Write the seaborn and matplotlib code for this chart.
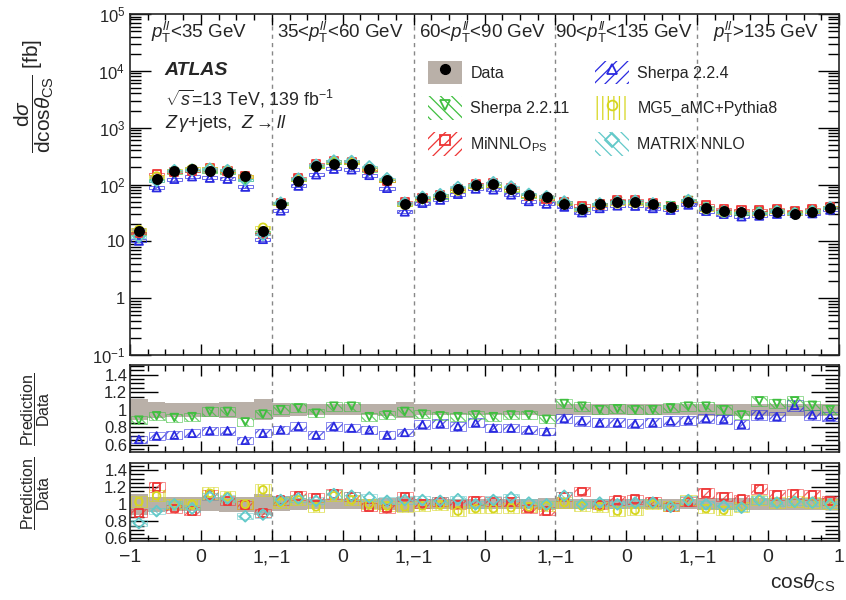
import numpy as np
import pandas as pd
import matplotlib
matplotlib.use("Agg")
import matplotlib.pyplot as plt
import seaborn as sns
from matplotlib.patches import Patch
from matplotlib.lines import Line2D
from matplotlib.ticker import FixedLocator, MultipleLocator, LogLocator, NullFormatter, FixedFormatter

# ---------------- data ----------------
cos_centers = [-0.875, -0.625, -0.375, -0.125, 0.125, 0.375, 0.625, 0.875]
pt_labels = [r"$p_{\mathrm{T}}^{ll}$<35 GeV", r"35<$p_{\mathrm{T}}^{ll}$<60 GeV",
             r"60<$p_{\mathrm{T}}^{ll}$<90 GeV", r"90<$p_{\mathrm{T}}^{ll}$<135 GeV",
             r"$p_{\mathrm{T}}^{ll}$>135 GeV"]

data_pt1 = [15.5, 127, 176, 190, 172, 165, 140, 15]
data_pt2 = [45, 117, 211, 232, 232, 190, 122, 45]
data_pt3 = [57, 64, 84, 99, 103, 84, 66, 61]
data_pt4 = [45, 37, 45, 50, 50, 45, 41, 50]
data_pt5 = [38, 34, 33, 30, 33, 30, 33, 39]

data_relunc = [0.12, 0.09, 0.08, 0.08, 0.08, 0.09, 0.09, 0.12,
               0.08, 0.07, 0.06, 0.06, 0.06, 0.06, 0.07, 0.09,
               0.06, 0.06, 0.06, 0.06, 0.06, 0.06, 0.06, 0.07,
               0.06, 0.06, 0.06, 0.06, 0.06, 0.06, 0.06, 0.06,
               0.07, 0.07, 0.07, 0.07, 0.07, 0.07, 0.07, 0.07]

ratio_sherpa224 = [0.66, 0.70, 0.71, 0.73, 0.76, 0.76, 0.65, 0.73,
                   0.77, 0.81, 0.71, 0.81, 0.79, 0.77, 0.71, 0.74,
                   0.83, 0.84, 0.81, 0.85, 0.79, 0.79, 0.77, 0.75,
                   0.90, 0.87, 0.85, 0.85, 0.84, 0.85, 0.87, 0.88,
                   0.90, 0.89, 0.83, 0.94, 0.92, 1.05, 0.94, 0.92]
ratio_sherpa2211 = [0.88, 0.93, 0.91, 0.92, 0.98, 0.98, 0.86, 0.95,
                    1.00, 1.02, 0.96, 1.04, 1.04, 0.92, 0.94, 0.98,
                    0.95, 0.93, 0.92, 0.94, 0.92, 0.94, 0.94, 0.89,
                    1.07, 1.04, 1.00, 1.01, 1.00, 1.00, 1.02, 1.04,
                    1.04, 1.00, 0.94, 1.10, 1.07, 1.10, 1.05, 1.00]
ratio_minnlo = [0.90, 1.20, 0.95, 0.92, 1.11, 1.04, 0.99, 0.90,
                1.05, 1.10, 1.08, 1.12, 1.09, 0.97, 0.95, 1.09,
                1.01, 1.03, 1.00, 1.04, 1.03, 1.03, 0.95, 0.92,
                1.09, 1.15, 0.99, 1.05, 1.06, 1.03, 0.97, 1.03,
                1.13, 1.09, 1.06, 1.18, 1.11, 1.12, 1.11, 1.04]
ratio_mg5 = [1.03, 1.10, 1.00, 1.00, 1.13, 1.09, 1.00, 1.17,
             1.02, 1.05, 0.97, 1.10, 1.05, 1.00, 0.98, 0.97,
             0.98, 0.99, 0.92, 0.95, 0.95, 0.96, 0.97, 0.98,
             1.02, 0.98, 0.97, 0.92, 0.93, 1.00, 0.98, 1.05,
             0.95, 0.93, 0.97, 1.05, 1.02, 1.03, 1.02, 1.00]
ratio_matrix = [0.78, 0.92, 1.00, 0.95, 1.09, 1.07, 0.86, 0.88,
                1.05, 1.07, 1.04, 1.12, 1.10, 1.08, 1.04, 1.05,
                1.05, 1.04, 1.06, 1.00, 1.05, 1.08, 1.02, 1.00,
                1.10, 1.00, 1.02, 1.00, 1.02, 1.02, 0.97, 1.05,
                1.00, 0.98, 0.96, 1.05, 1.02, 1.03, 1.02, 1.00]
model_relunc = {"Sherpa 2.2.4": 0.06, "Sherpa 2.2.11": 0.05,
                "MiNNLO$_{\\mathrm{PS}}$": 0.05, "MG5_aMC+Pythia8": 0.06,
                "MATRIX NNLO": 0.04}

x_ticklabels = ["\u22121", "0", "1,\u22121", "0", "1,\u22121", "0", "1,\u22121", "0",
                "1,\u22121", "0", "1"]

# ---------------- style ----------------
sns.set_style("ticks")
plt.rcParams["font.family"] = ["Liberation Sans", "DejaVu Sans"]
plt.rcParams["mathtext.fontset"] = "custom"
plt.rcParams["mathtext.rm"] = "Liberation Sans"
plt.rcParams["mathtext.it"] = "Liberation Sans:italic"
plt.rcParams["mathtext.bf"] = "Liberation Sans:bold"
plt.rcParams["hatch.linewidth"] = 0.9

GREY = "#b9b0a8"
models = [
    ("Sherpa 2.2.4", ratio_sherpa224, "#2a2ae0", "^", "///"),
    ("Sherpa 2.2.11", ratio_sherpa2211, "#3fbf3f", "v", "\\\\\\"),
    ("MiNNLO$_{\\mathrm{PS}}$", ratio_minnlo, "#ee3535", "s", "///"),
    ("MG5_aMC+Pythia8", ratio_mg5, "#d6d61e", "o", "|||"),
    ("MATRIX NNLO", ratio_matrix, "#62c9c9", "D", "\\\\\\"),
]

data_vals = np.array(data_pt1 + data_pt2 + data_pt3 + data_pt4 + data_pt5, dtype=float)
xg = np.array([2 * k + 1 + c for k in range(5) for c in cos_centers])
relunc = np.array(data_relunc)
BW = 0.25

fig = plt.figure(figsize=(8.46, 6.0), dpi=100)
ax0 = fig.add_axes([0.1537, 0.4083, 0.838, 0.5684])
ax1 = fig.add_axes([0.1537, 0.2472, 0.838, 0.1445], sharex=ax0)
ax2 = fig.add_axes([0.1537, 0.0983, 0.838, 0.1295], sharex=ax0)


def open_scatter(ax, x, y, marker, color, size=45, lw=1.3, z=3):
    sns.scatterplot(x=x, y=y, marker=marker, s=size, color=color, ax=ax,
                    linewidth=lw, zorder=z, legend=False)
    coll = ax.collections[-1]
    coll.set_facecolor("none")
    coll.set_edgecolor(color)


# main panel
ax0.set_yscale("log")
ax0.bar(xg, 2 * relunc * data_vals, bottom=data_vals * (1 - relunc), width=BW * 0.8,
        color=GREY, linewidth=0, zorder=2)
for name, r, col, mk, ht in models:
    r = np.array(r)
    pred = data_vals * r
    u = model_relunc[name]
    ax0.bar(xg, 2 * u * pred, bottom=pred * (1 - u), width=BW * 0.85, fill=False,
            hatch=ht, edgecolor=col, linewidth=0.6, zorder=2, alpha=0.8)
    open_scatter(ax0, xg, pred, mk, col, size=34)
df_data = pd.DataFrame({"x": xg, "y": data_vals})
sns.scatterplot(data=df_data, x="x", y="y", color="black", s=62, marker="o",
                ax=ax0, zorder=5, linewidth=0, legend=False)

# ratio panels
for ax in (ax1, ax2):
    ax.bar(xg, 2 * relunc, bottom=1 - relunc, width=BW, color=GREY, linewidth=0, zorder=1)

for ax, sel in ((ax1, models[:2]), (ax2, models[2:])):
    for name, r, col, mk, ht in sel:
        r = np.array(r)
        u = model_relunc[name]
        ax.bar(xg, 2 * u * r, bottom=r - u * r, width=BW * 0.9, fill=False,
               hatch=ht, edgecolor=col, linewidth=0.5, zorder=2, alpha=0.75)
        open_scatter(ax, xg, r, mk, col, size=30)

# limits, ticks
ax0.set_xlim(0, 10)
ax0.set_ylim(0.1, 1e5)
ax1.set_ylim(0.52, 1.51)
ax2.set_ylim(0.57, 1.48)

for ax in (ax0, ax1, ax2):
    for b in (2, 4, 6, 8):
        ax.axvline(b, color="#888888", ls=(0, (3, 3)), lw=1.0, zorder=0.5)
    ax.set_xlabel("")
    ax.set_ylabel("")
    ax.xaxis.set_major_locator(FixedLocator(list(range(11))))
    ax.xaxis.set_minor_locator(MultipleLocator(0.25))
    ax.tick_params(which="both", direction="in", top=True, right=True, width=1.0,
                   color="black")
    ax.tick_params(axis="x", which="major", length=8)
    ax.tick_params(axis="x", which="minor", length=4)
    for s in ax.spines.values():
        s.set_linewidth(1.2)

ax0.yaxis.set_major_locator(FixedLocator([0.1, 1, 10, 100, 1e3, 1e4, 1e5]))
ax0.yaxis.set_major_formatter(FixedFormatter([r"$10^{-1}$", "1", "10", r"$10^{2}$",
                                              r"$10^{3}$", r"$10^{4}$", r"$10^{5}$"]))
ax0.yaxis.set_minor_locator(LogLocator(base=10, subs=np.arange(2, 10), numticks=20))
ax0.yaxis.set_minor_formatter(NullFormatter())
ax0.tick_params(axis="y", which="major", length=15, labelsize=12)
ax0.tick_params(axis="y", which="minor", length=8)
ax0.tick_params(axis="x", labelbottom=False)
ax1.tick_params(axis="x", labelbottom=False)

for ax in (ax1, ax2):
    ax.yaxis.set_major_locator(FixedLocator([0.6, 0.8, 1.0, 1.2, 1.4]))
    ax.yaxis.set_major_formatter(FixedFormatter(["0.6", "0.8", "1", "1.2", "1.4"]))
    ax.yaxis.set_minor_locator(MultipleLocator(0.05))
    ax.tick_params(axis="y", which="major", length=20, labelsize=12, pad=2)
    ax.tick_params(axis="y", which="minor", length=10)

ax2.xaxis.set_major_formatter(FixedFormatter(x_ticklabels))
ax2.tick_params(axis="x", labelsize=14, pad=6)

# texts
for k, lab in enumerate(pt_labels):
    ax0.text(2 * k + 0.97, 0.945, lab, transform=ax0.get_xaxis_transform(),
             ha="center", va="center", fontsize=13.5)
ax0.text(0.49, 0.835, "ATLAS", transform=ax0.get_xaxis_transform(), fontsize=14,
         fontweight="bold", fontstyle="italic", va="center")
ax0.text(0.49, 0.752, r"$\sqrt{s}$=13 TeV, 139 fb$^{-1}$", transform=ax0.get_xaxis_transform(),
         fontsize=12.8, va="center")
ax0.text(0.49, 0.68, r"$Z\,\gamma$+jets,  $Z\rightarrow ll$", transform=ax0.get_xaxis_transform(),
         fontsize=13, va="center")

fig.text(0.04, 0.84,
         r"$\dfrac{\mathrm{d}\sigma}{\mathrm{dcos}\theta_{\mathrm{CS}}}$ [fb]",
         rotation=90, ha="center", va="center", fontsize=15)
fig.text(0.042, 0.318, r"$\dfrac{\mathrm{Prediction}}{\mathrm{Data}}$", rotation=90,
         ha="center", va="center", fontsize=11.5)
fig.text(0.042, 0.178, r"$\dfrac{\mathrm{Prediction}}{\mathrm{Data}}$", rotation=90,
         ha="center", va="center", fontsize=11.5)
fig.text(0.988, 0.028, r"cos$\theta_{\mathrm{CS}}$", ha="right", va="center", fontsize=15)

# legend
def mk_handle(col, mk, ht):
    return (Patch(facecolor="none", edgecolor=col, hatch=ht, linewidth=0),
            Line2D([], [], marker=mk, ls="", mfc="none", mec=col, ms=7, mew=1.3))

h = {name: mk_handle(col, mk, ht) for name, r, col, mk, ht in models}
h_data = (Patch(facecolor=GREY, edgecolor="none"),
          Line2D([], [], marker="o", ls="", color="black", ms=7))
handles = [h_data, h["Sherpa 2.2.11"], h["MiNNLO$_{\\mathrm{PS}}$"],
           h["Sherpa 2.2.4"], h["MG5_aMC+Pythia8"], h["MATRIX NNLO"]]
labels = ["Data", "Sherpa 2.2.11", "MiNNLO$_{\\mathrm{PS}}$",
          "Sherpa 2.2.4", "MG5_aMC+Pythia8", "MATRIX NNLO"]
ax0.legend(handles, labels, ncol=2, loc="upper left", bbox_to_anchor=(0.4, 0.905),
           frameon=False, fontsize=11.5, handlelength=2.1, handleheight=1.9,
           labelspacing=0.75, columnspacing=1.6, handletextpad=0.55)

fig.savefig("out.png", dpi=100)
